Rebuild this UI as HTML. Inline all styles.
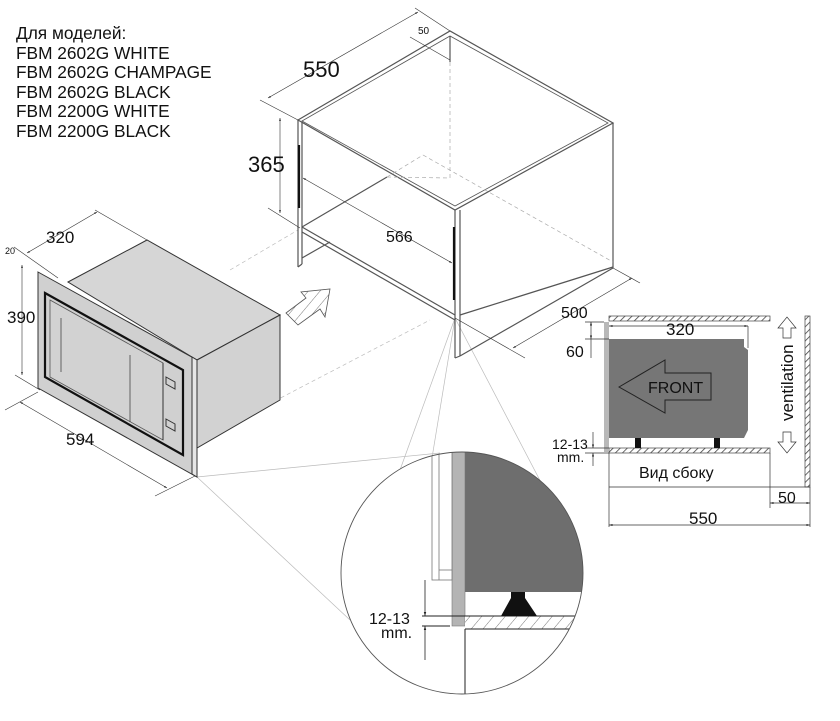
<!DOCTYPE html>
<html><head><meta charset="utf-8"><style>
html,body{margin:0;padding:0;background:#fff}
svg{display:block}
text{font-family:"Liberation Sans",Arial,sans-serif;fill:#111}
</style></head><body>
<svg width="840" height="721" viewBox="0 0 840 721" xmlns="http://www.w3.org/2000/svg">
<defs>
<pattern id="hat" width="5" height="5" patternUnits="userSpaceOnUse" patternTransform="rotate(45)">
<rect width="5" height="5" fill="#fff"/><line x1="0" y1="0" x2="0" y2="5" stroke="#444" stroke-width="1.6"/></pattern>
<pattern id="hat2" width="9" height="9" patternUnits="userSpaceOnUse" patternTransform="rotate(40)">
<rect width="9" height="9" fill="#fff"/><line x1="0" y1="0" x2="0" y2="9" stroke="#555" stroke-width="0.8"/></pattern>
<clipPath id="cc"><circle cx="462" cy="573" r="121"/></clipPath>
<marker id="ar" viewBox="0 0 10 10" refX="10" refY="5" markerWidth="5" markerHeight="5" orient="auto-start-reverse"><path d="M0,2 L10,5 L0,8z" fill="#222"/></marker>
</defs>

<g font-size="17.3">
<text x="16" y="39">Для моделей:</text>
<text x="16" y="59">FBM 2602G WHITE</text>
<text x="16" y="78">FBM 2602G CHAMPAGE</text>
<text x="16" y="98">FBM 2602G BLACK</text>
<text x="16" y="117">FBM 2200G WHITE</text>
<text x="16" y="137">FBM 2200G BLACK</text>
</g>

<g stroke="#bbb" stroke-width="0.7" fill="none">
<line x1="197" y1="477" x2="440" y2="453"/>
<line x1="197" y1="477" x2="350" y2="620"/>
<line x1="455" y1="318" x2="400" y2="470"/>
<line x1="455" y1="318" x2="545" y2="490"/>
<line x1="455" y1="318" x2="430" y2="470"/>
<line x1="230" y1="270" x2="298" y2="230" stroke-dasharray="4 3"/>
<line x1="200" y1="440" x2="430" y2="320" stroke-dasharray="4 3"/>
</g>

<g stroke="#555" stroke-width="1.2" fill="none">
<polygon points="298,120 450,31 613,123 455,210"/>
<polygon points="302,121 450,36 608,123 455,206" stroke-width="0.8"/>
<line x1="298" y1="120" x2="298" y2="267"/>
<line x1="302" y1="122" x2="302" y2="264"/>
<line x1="298" y1="267" x2="302" y2="264"/>
<line x1="455" y1="210" x2="455" y2="358"/>
<line x1="460" y1="210" x2="460" y2="356"/>
<line x1="455" y1="358" x2="460" y2="356"/>
<line x1="613" y1="123" x2="613" y2="268"/>
<line x1="460" y1="356" x2="613" y2="268"/>
<line x1="302" y1="227" x2="455" y2="315"/>
<line x1="302" y1="232" x2="455" y2="320"/>
<line x1="302" y1="227" x2="387" y2="177"/>
<line x1="302" y1="258" x2="330" y2="242"/>
<line x1="450" y1="36" x2="450" y2="62"/>
<line x1="460" y1="315" x2="613" y2="267"/>
</g>
<g stroke="#aaa" stroke-width="0.7" stroke-dasharray="4 3" fill="none">
<line x1="450" y1="62" x2="450" y2="178"/>
<line x1="387" y1="177" x2="450" y2="178"/>
<line x1="423" y1="155" x2="613" y2="262"/>
<line x1="387" y1="177" x2="423" y2="155"/>
</g>
<g stroke="#111" stroke-width="2.2">
<line x1="299" y1="145" x2="299" y2="208"/>
<line x1="454" y1="227" x2="454" y2="300"/>
</g>
<g stroke="#333" stroke-width="0.6" fill="none">
<line x1="260" y1="100" x2="298" y2="120"/>
<line x1="268" y1="98" x2="418" y2="12" marker-start="url(#ar)" marker-end="url(#ar)"/>
<line x1="415" y1="8" x2="450" y2="31"/>
<line x1="410" y1="37" x2="450" y2="60"/>
<line x1="280" y1="118" x2="280" y2="213" marker-start="url(#ar)" marker-end="url(#ar)"/>
<line x1="268" y1="208" x2="300" y2="228"/>
<line x1="303" y1="178" x2="452" y2="263" marker-start="url(#ar)" marker-end="url(#ar)"/>
<line x1="513" y1="348" x2="632" y2="278" marker-start="url(#ar)" marker-end="url(#ar)"/>
<line x1="455" y1="318" x2="525" y2="358"/>
<line x1="613" y1="268" x2="640" y2="283"/>
</g>
<text x="303" y="77" font-size="22">550</text>
<text x="418" y="34" font-size="10">50</text>
<text x="248" y="172" font-size="22">365</text>
<text x="386" y="242" font-size="16">566</text>
<text x="561" y="318" font-size="16">500</text>

<polygon points="286,313 306,298 301,292 330,289 325,317 320,309 298,325" fill="url(#hat2)" stroke="#555" stroke-width="0.8"/>

<g stroke="#333" stroke-width="1">
<polygon points="68,282 147,240 280,315 197,360" fill="#d6d6d6"/>
<polygon points="197,360 280,315 280,400 197,448" fill="#d2d2d2"/>
<polygon points="38,272 197,360 197,477 38,388" fill="#d0d0d0"/>
<polygon points="192,357 197,360 197,477 192,474" fill="#e6e6e6"/>
<polygon points="45,293 183,370 183,455 45,377" fill="none" stroke="#111" stroke-width="2.2"/>
<polygon points="50,300 163,363 163,440 50,377" fill="#d2d2d2" stroke="#555" stroke-width="0.8"/>
<line x1="61" y1="318" x2="61" y2="372" stroke-width="0.7"/>
<line x1="130" y1="355" x2="130" y2="422" stroke-width="0.7"/>
<line x1="163" y1="363" x2="163" y2="440"/>
<polygon points="166,377 175,382 175,389 166,384" fill="none"/>
<polygon points="166,419 175,424 175,431 166,426" fill="none"/>
</g>
<g stroke="#333" stroke-width="0.6" fill="none">
<line x1="27" y1="253" x2="97" y2="212" marker-start="url(#ar)" marker-end="url(#ar)"/>
<line x1="95" y1="210" x2="147" y2="240"/>
<line x1="14" y1="247" x2="58" y2="278"/>
<line x1="22" y1="265" x2="22" y2="375" marker-start="url(#ar)" marker-end="url(#ar)"/>
<line x1="15" y1="375" x2="40" y2="390"/>
<line x1="20" y1="402" x2="167" y2="488" marker-start="url(#ar)" marker-end="url(#ar)"/>
<line x1="5" y1="410" x2="38" y2="392"/>
<line x1="155" y1="496" x2="195" y2="476"/>
</g>
<text x="46" y="243" font-size="17">320</text>
<text x="5" y="254" font-size="9">20</text>
<text x="7" y="323" font-size="17">390</text>
<text x="66" y="445" font-size="17">594</text>

<rect x="609" y="316" width="161" height="5" fill="url(#hat)" stroke="#444" stroke-width="0.7"/>
<rect x="805" y="316" width="5" height="171" fill="url(#hat)" stroke="#444" stroke-width="0.7"/>
<rect x="609" y="448" width="161" height="5" fill="url(#hat)" stroke="#444" stroke-width="0.7"/>
<rect x="604" y="322" width="5" height="130" fill="#b8b8b8"/>
<path d="M609,339 H744 V347 L748,350 V430 L744,438 H609 Z" fill="#767676"/>
<polygon points="619,387 665,360 665,373 711,373 711,400 665,400 665,413" fill="none" stroke="#222" stroke-width="1"/>
<text x="648" y="393" font-size="16">FRONT</text>
<rect x="635" y="438" width="6" height="10" fill="#111"/>
<rect x="714" y="438" width="6" height="10" fill="#111"/>
<g stroke="#333" stroke-width="0.7" fill="none">
<line x1="609" y1="453" x2="609" y2="527"/>
<line x1="770" y1="453" x2="770" y2="508"/>
<line x1="609" y1="487" x2="810" y2="487"/>
<line x1="810" y1="487" x2="810" y2="527"/>
<line x1="770" y1="503" x2="810" y2="503" marker-start="url(#ar)" marker-end="url(#ar)"/>
<line x1="609" y1="525" x2="810" y2="525" marker-start="url(#ar)" marker-end="url(#ar)"/>
<line x1="609" y1="326" x2="748" y2="326" marker-start="url(#ar)" marker-end="url(#ar)"/>
<line x1="748" y1="326" x2="748" y2="348"/>
<line x1="591" y1="322" x2="591" y2="339" marker-start="url(#ar)" marker-end="url(#ar)"/>
<line x1="585" y1="322" x2="604" y2="322"/>
<line x1="585" y1="339" x2="609" y2="339"/>
<line x1="591" y1="358" x2="591" y2="339"/>
<line x1="593" y1="432" x2="593" y2="448" marker-end="url(#ar)"/>
<line x1="593" y1="466" x2="593" y2="453" marker-end="url(#ar)"/>
<line x1="585" y1="448" x2="609" y2="448"/>
<line x1="585" y1="453" x2="609" y2="453"/>
<path d="M783,338 V328 H778 L787,317 L796,328 H791 V338 Z"/>
<path d="M783,432 V442 H778 L787,453 L796,442 H791 V432 Z"/>
</g>
<text x="666" y="335" font-size="17">320</text>
<text x="566" y="357" font-size="16">60</text>
<text x="552" y="449" font-size="14">12-13</text>
<text x="557" y="462" font-size="14">mm.</text>
<text x="639" y="478" font-size="16">Вид сбоку</text>
<text x="778" y="503" font-size="16">50</text>
<text x="689" y="524" font-size="17">550</text>
<text transform="translate(793,421) rotate(-90)" font-size="17">ventilation</text>

<circle cx="462" cy="573" r="121" fill="#fff"/>
<g clip-path="url(#cc)">
<rect x="465" y="440" width="140" height="152" fill="#6e6e6e"/>
<rect x="452" y="440" width="13" height="186" fill="#b4b4b4" stroke="#777" stroke-width="0.6"/>
<rect x="432" y="440" width="20" height="140" fill="#fff" stroke="#777" stroke-width="0.8"/>
<line x1="439" y1="440" x2="439" y2="580" stroke="#777" stroke-width="0.8"/>
<line x1="439" y1="570" x2="452" y2="570" stroke="#777" stroke-width="0.8"/>
<rect x="465" y="616" width="140" height="13" fill="url(#hat2)"/>
<line x1="422" y1="616" x2="600" y2="616" stroke="#222" stroke-width="1"/>
<line x1="465" y1="629" x2="600" y2="629" stroke="#222" stroke-width="1"/>
<line x1="465" y1="629" x2="465" y2="700" stroke="#222" stroke-width="1"/>
<line x1="422" y1="626" x2="450" y2="626" stroke="#222" stroke-width="1"/>
<polygon points="511,592 525,592 525,598 537,616 501,616 511,598" fill="#111"/>
</g>
<circle cx="462" cy="573" r="121" fill="none" stroke="#555" stroke-width="0.9"/>
<g stroke="#222" stroke-width="0.8">
<line x1="425" y1="580" x2="425" y2="616" marker-end="url(#ar)"/>
<line x1="425" y1="660" x2="425" y2="626" marker-end="url(#ar)"/>
</g>
<text x="369" y="624" font-size="16">12-13</text>
<text x="381" y="638" font-size="16">mm.</text>
</svg>
</body></html>
